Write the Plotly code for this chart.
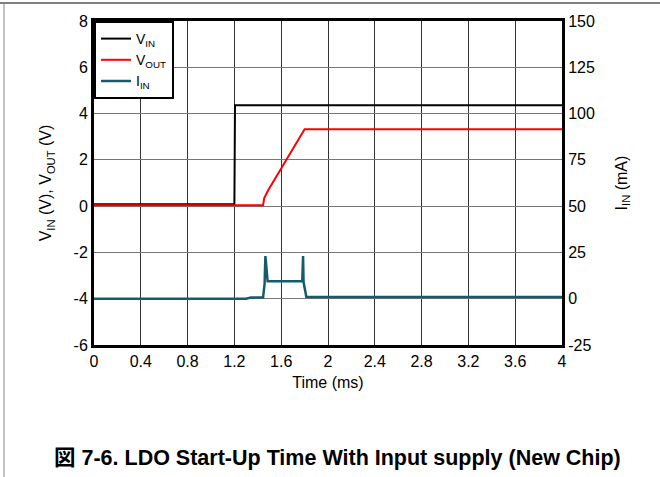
import plotly.graph_objects as go

# ---- data ----
vin_t = [0.0, 1.20, 1.205, 4.0]
vin_v = [0.08, 0.08, 4.36, 4.36]

vout_t = [0.0, 1.445, 1.455, 1.49, 1.80, 4.0]
vout_v = [0.04, 0.04, 0.35, 0.70, 3.32, 3.32]

iin_t = [0.0, 1.30, 1.34, 1.445, 1.458, 1.465, 1.484, 1.780, 1.787, 1.791, 1.815, 4.0]
iin_ma = [0.0, 0.0, 0.6, 0.6, 8.0, 23.0, 9.4, 9.6, 23.0, 9.0, 0.9, 0.9]

x_ticks = [0, 0.4, 0.8, 1.2, 1.6, 2, 2.4, 2.8, 3.2, 3.6, 4]
x_labels = ["0", "0.4", "0.8", "1.2", "1.6", "2", "2.4", "2.8", "3.2", "3.6", "4"]
y_ticks = [-6, -4, -2, 0, 2, 4, 6, 8]
y_labels = ["-6", "-4", "-2", "0", "2", "4", "6", "8"]
y2_ticks = [-25, 0, 25, 50, 75, 100, 125, 150]
y2_labels = ["-25", "0", "25", "50", "75", "100", "125", "150"]

FONT = "Liberation Sans, Arial, Noto Sans CJK JP, sans-serif"

fig = go.Figure()
fig.add_trace(go.Scatter(x=vin_t, y=vin_v, mode="lines", name="V<sub>IN</sub>",
                         line=dict(color="#000000", width=2)))
fig.add_trace(go.Scatter(x=vout_t, y=vout_v, mode="lines", name="V<sub>OUT</sub>",
                         line=dict(color="#ff0000", width=2)))
fig.add_trace(go.Scatter(x=iin_t, y=iin_ma, mode="lines", name="I<sub>IN</sub>",
                         yaxis="y2", line=dict(color="#175b6b", width=2.5)))

fig.update_layout(
    width=660, height=477,
    margin=dict(l=94, r=98, t=21, b=132, autoexpand=False),
    paper_bgcolor="white", plot_bgcolor="white",
    font=dict(family=FONT, size=16, color="#000"),
    showlegend=True,
    legend=dict(x=0, y=1, xanchor="left", yanchor="top",
                bgcolor="white", bordercolor="#000", borderwidth=2,
                font=dict(size=14), tracegroupgap=0,
                itemwidth=30),
    xaxis=dict(range=[0, 4], tickvals=x_ticks, ticktext=x_labels, automargin=False,
               showgrid=True, gridcolor="#333", gridwidth=1,
               showline=True, linecolor="#000", linewidth=3, mirror=True,
               ticks="", zeroline=False, tickfont=dict(size=16),
               title=dict(text="Time (ms)", standoff=8, font=dict(size=16))),
    yaxis=dict(range=[-6, 8], tickvals=y_ticks, ticktext=y_labels, automargin=False,
               showgrid=True, gridcolor="#777", gridwidth=1,
               showline=True, linecolor="#000", linewidth=3, mirror=True,
               ticks="", zeroline=False, tickfont=dict(size=16),
               title=dict(text="V<sub>IN</sub> (V), V<sub>OUT</sub> (V)", standoff=18,
                          font=dict(size=16))),
    yaxis2=dict(range=[-25, 150], tickvals=y2_ticks, ticktext=y2_labels,
                overlaying="y", side="right", automargin=False,
                showgrid=False, showline=True, linecolor="#000", linewidth=3,
                ticks="", zeroline=False, tickfont=dict(size=16),
                title=dict(text="I<sub>IN</sub> (mA)", standoff=22, font=dict(size=16))),
)

# page frame lines (decoration)
fig.add_shape(type="line", xref="paper", yref="paper",
              x0=-94/468, x1=566/468, y0=1 + 18/324, y1=1 + 18/324,
              line=dict(color="#000", width=1))
fig.add_shape(type="line", xref="paper", yref="paper",
              x0=-90/468, x1=-90/468, y0=1 + 18/324, y1=-132/324,
              line=dict(color="#888", width=1))

fig.add_annotation(text="<b>図 7-6. LDO Start-Up Time With Input supply (New Chip)</b>",
                   xref="paper", yref="paper", x=(337-94)/468, y=(345-458)/324,
                   xanchor="center", yanchor="middle", showarrow=False,
                   font=dict(family=FONT, size=21.5, color="#000"))

fig.write_html("out.html", config={"displayModeBar": False},
               post_script="document.body.style.margin='0';document.body.style.overflow='hidden';")
